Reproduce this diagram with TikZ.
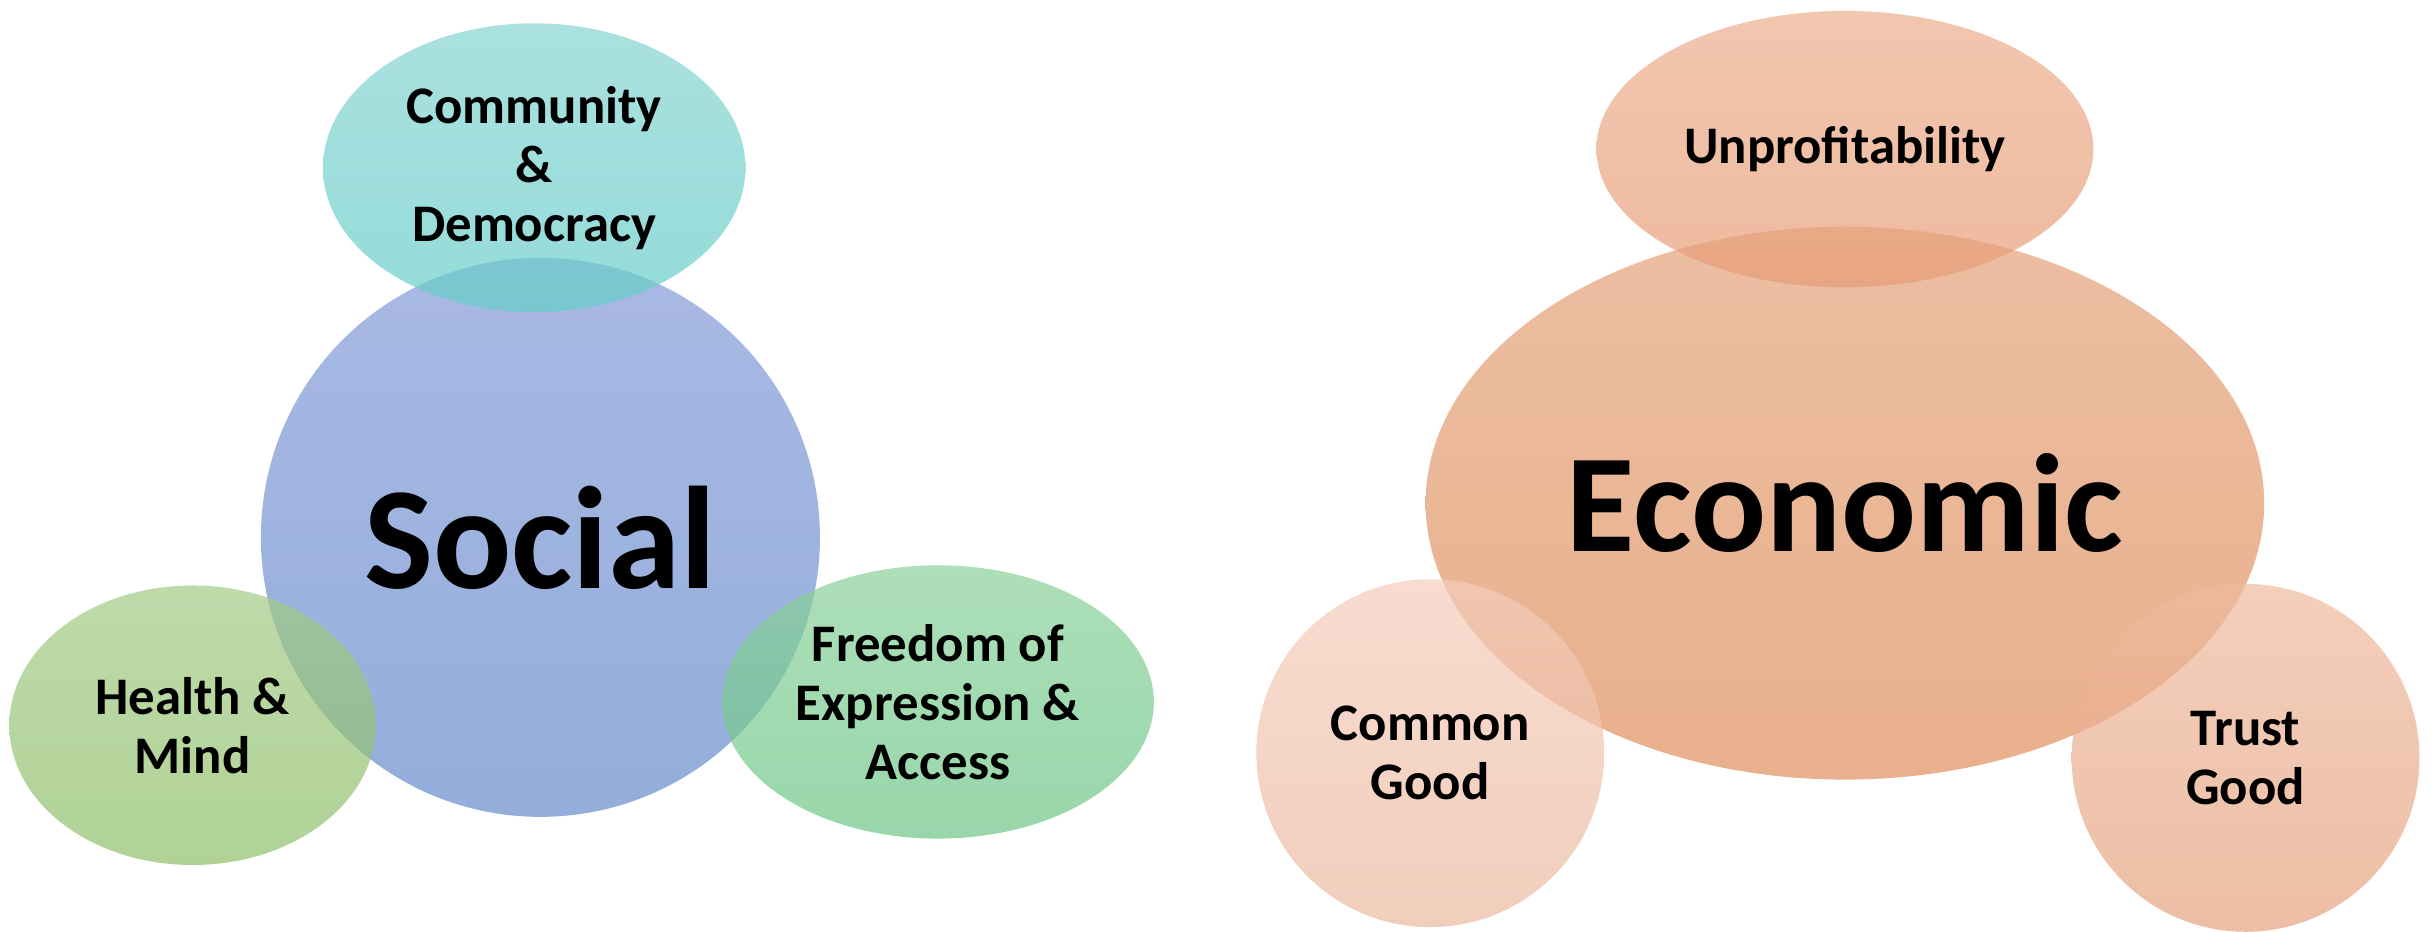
\documentclass[tikz,border=0pt]{standalone}
\usepackage{fontspec}
\setmainfont{Carlito}
\usetikzlibrary{shapes.geometric}

\definecolor{socialtop}{RGB}{132,155,215}
\definecolor{socialbot}{RGB}{101,139,204}
\definecolor{commtop}{RGB}{134,212,211}
\definecolor{commbot}{RGB}{101,205,199}
\definecolor{healthtop}{RGB}{162,202,134}
\definecolor{healthbot}{RGB}{142,191,105}
\definecolor{freetop}{RGB}{138,209,154}
\definecolor{freebot}{RGB}{108,197,134}
\definecolor{econtop}{RGB}{228,162,122}
\definecolor{econbot}{RGB}{222,142,91}
\definecolor{unproftop}{RGB}{236,175,141}
\definecolor{unprofbot}{RGB}{231,156,119}
\definecolor{commontop}{RGB}{245,205,188}
\definecolor{commonbot}{RGB}{235,185,159}
\definecolor{trusttop}{RGB}{238,186,159}
\definecolor{trustbot}{RGB}{229,162,126}

\tikzset{every picture/.style={line width=0.75pt}}
\tikzset{
  blob/.style={ellipse, inner sep=0pt, draw=none, fill opacity=0.7, text opacity=1,
    align=center, font=\bfseries\fontsize{17}{19}\selectfont},
}

\begin{document}
\begin{tikzpicture}[x=0.5pt,y=0.5pt,yscale=-1,xscale=1]
\useasboundingbox (0,0) rectangle (1568,600);

%Shape: Ellipse [id:social]
\node [blob, top color=socialtop, bottom color=socialbot, minimum width=180pt, minimum height=180pt, font=\bfseries\fontsize{47}{50}\selectfont] (social) at (348,346) {Social};
%Shape: Ellipse [id:community]
\node [blob, top color=commtop, bottom color=commbot, minimum width=136pt, minimum height=93pt] (community) at (344,108) {Community\\\&\\Democracy};
%Shape: Ellipse [id:health]
\node [blob, top color=healthtop, bottom color=healthbot, minimum width=118pt, minimum height=90pt] (health) at (124,467) {Health \&\\Mind};
%Shape: Ellipse [id:freedom]
\node [blob, top color=freetop, bottom color=freebot, minimum width=139pt, minimum height=88pt] (freedom) at (604,452) {Freedom of\\Expression \&\\Access};

%Shape: Ellipse [id:economic]
\node [blob, top color=econtop, bottom color=econbot, minimum width=270pt, minimum height=178pt, font=\bfseries\fontsize{45}{48}\selectfont] (economic) at (1188,324) {Economic};
%Shape: Ellipse [id:unprofitability]
\node [blob, top color=unproftop, bottom color=unprofbot, minimum width=160pt, minimum height=89pt] (unprofitability) at (1188,96) {Unprofitability};
%Shape: Ellipse [id:commongood]
\node [blob, top color=commontop, bottom color=commonbot, minimum width=112pt, minimum height=112pt] (commongood) at (921,485) {Common\\Good};
%Shape: Ellipse [id:trustgood]
\node [blob, top color=trusttop, bottom color=trustbot, minimum width=112pt, minimum height=112pt] (trustgood) at (1446,488) {Trust\\Good};
\end{tikzpicture}
\end{document}
